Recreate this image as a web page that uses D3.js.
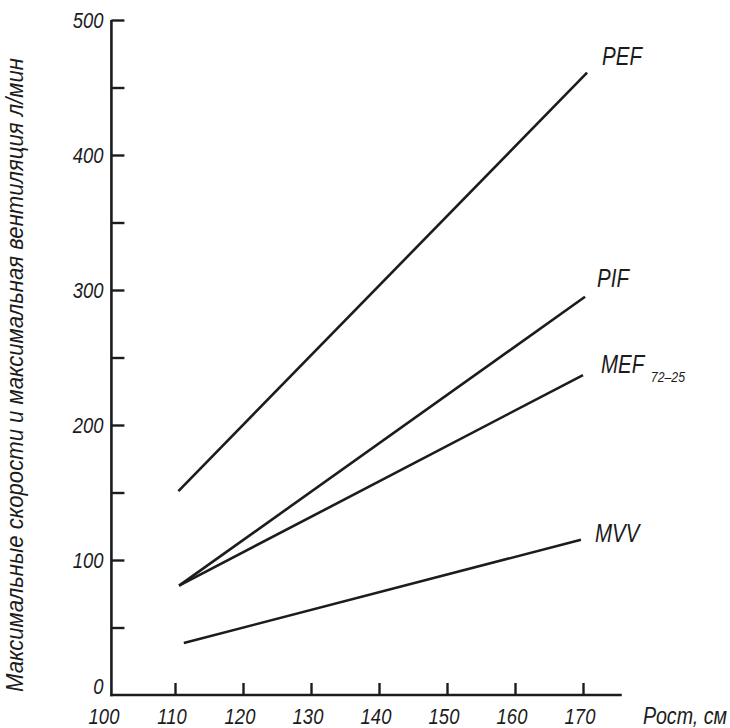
<!DOCTYPE html>
<html><head><meta charset="utf-8">
<script src="https://cdn.jsdelivr.net/npm/d3@7"></script>
<style>
html,body{margin:0;padding:0;background:#fff;}
svg text{font-family:'Liberation Sans','Arial',sans-serif;font-style:italic;fill:#1c1c1c;}
</style></head>
<body>
<svg id="chart" width="730" height="728"></svg>
<script>
// ---- data ----
const seriesNames = ["PEF", "PIF", "MEF", "MVV"];
const startHeight = [110.5, 110.6, 110.6, 111.3];
const endHeight   = [170.6, 170.3, 170.0, 169.7];
const startValue  = [151, 81, 81, 38.5];
const endValue    = [461, 295, 237, 115];
const subscripts  = ["", "", "72–25", ""];
const xTickValues = [100, 110, 120, 130, 140, 150, 160, 170];
const yTickValues = [0, 50, 100, 150, 200, 250, 300, 350, 400, 450, 500];
const yLabelValues = [0, 100, 200, 300, 400, 500];
const xTitle = "Рост, см";
const yTitle = "Максимальные скорости и максимальная вентиляция л/мин";

// ---- layout ----
const svg = d3.select("#chart");
const x = d3.scaleLinear().domain([100, 170]).range([107, 583]);
const y = d3.scaleLinear().domain([0, 500]).range([695, 20]);
const axisStartX = 100.65, axisEndX = 175.7;
const ink = "#1c1c1c";
const narrow = 0.82;
const labelOffsets = [[15, -8], [12, -10], [18, -2], [14, 2]];

// axes lines
svg.append("line").attr("x1", x(axisStartX)).attr("x2", x(axisStartX))
  .attr("y1", y(0) + 1.2).attr("y2", y(500))
  .attr("stroke", ink).attr("stroke-width", 2.6);
svg.append("line").attr("x1", x(axisStartX) - 1.2).attr("x2", x(axisEndX))
  .attr("y1", y(0)).attr("y2", y(0))
  .attr("stroke", ink).attr("stroke-width", 2.6);

// y ticks (inward)
const yAxis = d3.axisRight(y).tickValues(yTickValues).tickSize(13).tickFormat("");
const gy = svg.append("g").attr("transform", `translate(${x(axisStartX)},0)`).call(yAxis);
gy.select(".domain").remove();
gy.selectAll(".tick line").attr("stroke", ink).attr("stroke-width", 2.4);
gy.selectAll(".tick").filter(d => d === 0).remove();

// y labels
svg.append("g").selectAll("text").data(yLabelValues).join("text")
  .attr("transform", d => `translate(${x(axisStartX) - 8},${y(d) + (d === 0 ? -1 : 8)}) scale(${narrow},1)`)
  .attr("text-anchor", "end")
  .attr("font-size", 22.5)
  .text(d => d);

// x ticks (inward)
const xAxis = d3.axisTop(x).tickValues(xTickValues.filter(v => v > 100)).tickSize(12).tickFormat("");
const gx = svg.append("g").attr("transform", `translate(0,${y(0)})`).call(xAxis);
gx.select(".domain").remove();
gx.selectAll(".tick line").attr("stroke", ink).attr("stroke-width", 2.4);

// x labels
svg.append("g").selectAll("text").data(xTickValues).join("text")
  .attr("transform", d => `translate(${x(d) - 3},724) scale(${narrow},1)`)
  .attr("text-anchor", "middle")
  .attr("font-size", 22.5)
  .text(d => d);

// axis titles
svg.append("text")
  .attr("transform", `translate(643,724) scale(${narrow},1)`)
  .attr("font-size", 24).text(xTitle);
svg.append("text")
  .attr("transform", "translate(23,692) rotate(-90)")
  .attr("font-size", 23.5)
  .attr("textLength", 634).attr("lengthAdjust", "spacingAndGlyphs")
  .text(yTitle);

// lines
const rows = seriesNames.map((n, i) => ({
  name: n, sub: subscripts[i],
  pts: [[startHeight[i], startValue[i]], [endHeight[i], endValue[i]]],
  off: labelOffsets[i]
}));
const line = d3.line().x(d => x(d[0])).y(d => y(d[1]));
svg.append("g").selectAll("path").data(rows).join("path")
  .attr("d", d => line(d.pts))
  .attr("fill", "none").attr("stroke", ink).attr("stroke-width", 2.6)
  .attr("stroke-linecap", "butt");

// series labels
const lbl = svg.append("g").selectAll("text").data(rows).join("text")
  .attr("transform", d => `translate(${x(d.pts[1][0]) + d.off[0]},${y(d.pts[1][1]) + d.off[1]}) scale(${narrow},1)`)
  .attr("font-size", 25);
lbl.append("tspan").text(d => d.name);
lbl.filter(d => d.sub).append("tspan")
  .attr("dx", 8).attr("dy", 9).attr("font-size", 15).text(d => d.sub);
</script>
</body></html>
